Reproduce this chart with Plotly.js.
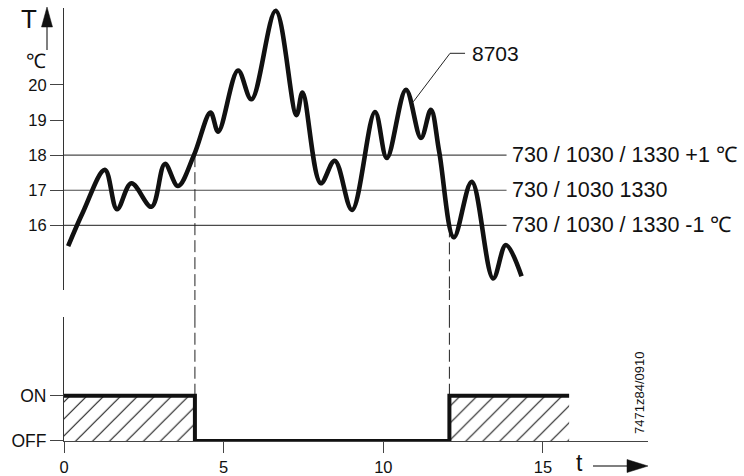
<!DOCTYPE html>
<html>
<head>
<meta charset="utf-8">
<script src="https://cdn.plot.ly/plotly-3.0.1.min.js"></script>
<style>
  html, body { margin: 0; padding: 0; background: #fff; }
  #chart { width: 744px; height: 476px; }
</style>
</head>
<body>
<div id="chart"></div>
<script>
// Room temperature over time (t, °C)
const curveTime = [0.13, 0.60, 1.28, 1.66, 2.11, 2.74, 3.16, 3.57, 4.07, 4.59, 4.83, 5.45, 5.87, 6.63,
                   7.28, 7.47, 8.04, 8.48, 9.02, 9.74, 10.11, 10.71, 11.18, 11.49, 11.75, 12.21, 12.77,
                   13.44, 13.84, 14.33];
const curveTemp = [15.41, 16.39, 17.58, 16.46, 17.20, 16.53, 17.75, 17.12, 18.00, 19.21, 18.67, 20.41, 19.59, 22.11,
                   19.14, 19.78, 17.20, 17.84, 16.44, 19.23, 17.92, 19.86, 18.49, 19.29, 18.10, 15.66, 17.24,
                   14.49, 15.44, 14.55];

// Setpoint levels and their parameter labels
const levelValues = [18, 17, 16];
const levelLabels = ['730 / 1030 / 1330 +1 \u2103', '730 / 1030 1330', '730 / 1030 / 1330 -1 \u2103'];
const levelEnd = 13.86;

// Relay output: switching instants and state after each instant (1 = ON, 0 = OFF)
const switchTime = [0, 4.1, 12.07, 15.82];
const switchState = [1, 0, 1, 1];
// Temperature at which each switching happens
const switchTemp = [18, 16];

// Leader for the curve label
const leaderTime = [10.94, 12.09, 12.56];
const leaderTemp = [19.52, 20.90, 20.90];
const curveName = '8703';

// Tick labels
const tempTicks = [16, 17, 18, 19, 20];
const timeTicks = [0, 5, 10, 15];
const stateTicks = [0, 1];
const stateLabels = ['OFF', 'ON'];

// Layout geometry
const xRange = [0, 18.29];
const tempRange = [14.16, 22.19];
const stateRange = [0, 2.74];
const tempDomain = [0.3487, 1];
const stateDomain = [0, 0.2864];

const FONT = 'Liberation Sans, Arial, Helvetica, sans-serif';
const INK = '#111';
const AXIS = '#444';
const DASH = '12px,5px';

const traces = [];

// Setpoint reference lines
const refX = [], refY = [];
levelValues.forEach(v => { refX.push(0, levelEnd, null); refY.push(v, v, null); });
traces.push({
  x: refX, y: refY, xaxis: 'x', yaxis: 'y', mode: 'lines',
  line: { color: '#4a4a4a', width: 1.1 }, hoverinfo: 'skip', showlegend: false
});

// Dashed switching markers in both panels
const switchInstants = switchTime.slice(1, 3);
switchInstants.forEach((t, i) => {
  traces.push({
    x: [t, t], y: [switchTemp[i], tempRange[0] - 1], xaxis: 'x', yaxis: 'y', mode: 'lines',
    line: { color: '#222', width: 1, dash: DASH }, hoverinfo: 'skip', showlegend: false
  });
  traces.push({
    x: [t, t], y: [1, stateRange[1] + 1], xaxis: 'x', yaxis: 'y2', mode: 'lines',
    line: { color: '#222', width: 1, dash: DASH }, hoverinfo: 'skip', showlegend: false
  });
});

// Temperature curve
traces.push({
  x: curveTime, y: curveTemp, xaxis: 'x', yaxis: 'y', mode: 'lines',
  line: { color: '#111', width: 4.6, shape: 'spline', smoothing: 1.0 },
  hoverinfo: 'skip', showlegend: false
});

// Leader line to the curve label
traces.push({
  x: leaderTime, y: leaderTemp, xaxis: 'x', yaxis: 'y', mode: 'lines',
  line: { color: '#222', width: 1 }, hoverinfo: 'skip', showlegend: false
});

// Relay output with hatched ON periods
traces.push({
  x: switchTime, y: switchState, xaxis: 'x', yaxis: 'y2', mode: 'lines',
  line: { color: '#111', width: 4, shape: 'hv' },
  fill: 'tozeroy', fillcolor: 'rgba(0,0,0,0)',
  fillpattern: { shape: '/', size: 12, solidity: 0.1, fgcolor: '#222', bgcolor: 'rgba(255,255,255,0)' },
  hoverinfo: 'skip', showlegend: false
});

const shapes = [];
// Dashed markers continue through the gap between the panels
switchInstants.forEach(t => {
  shapes.push({
    type: 'line', xref: 'x', yref: 'paper', x0: t, x1: t, y0: stateDomain[1], y1: tempDomain[0],
    line: { color: '#222', width: 1, dash: DASH }
  });
});
// Arrow of the temperature axis
shapes.push({
  type: 'path', xref: 'paper', yref: 'paper', xsizemode: 'pixel', ysizemode: 'pixel',
  xanchor: 0, yanchor: 1, path: 'M-17,-19 L-17,-42',
  line: { color: '#555', width: 1.5 }
});
shapes.push({
  type: 'path', xref: 'paper', yref: 'paper', xsizemode: 'pixel', ysizemode: 'pixel',
  xanchor: 0, yanchor: 1, path: 'M-17,1 L-22.5,-19 L-11.5,-19 Z',
  fillcolor: '#111', line: { color: '#111', width: 0.5 }
});
// Arrow of the time axis
shapes.push({
  type: 'path', xref: 'paper', yref: 'paper', xsizemode: 'pixel', ysizemode: 'pixel',
  xanchor: 1, yanchor: 0, path: 'M-55,-25 L-21,-25',
  line: { color: '#555', width: 1.5 }
});
shapes.push({
  type: 'path', xref: 'paper', yref: 'paper', xsizemode: 'pixel', ysizemode: 'pixel',
  xanchor: 1, yanchor: 0, path: 'M0,-25 L-21,-18.5 L-21,-31.5 Z',
  fillcolor: '#111', line: { color: '#111', width: 0.5 }
});

const annotations = [];
levelValues.forEach((v, i) => {
  annotations.push({
    xref: 'x', yref: 'y', x: levelEnd, y: v, text: levelLabels[i], showarrow: false,
    xanchor: 'left', yanchor: 'middle', xshift: 3, yshift: 0,
    font: { family: FONT, size: 21.5, color: INK }
  });
});
annotations.push({
  xref: 'x', yref: 'y', x: leaderTime[2], y: leaderTemp[2], text: curveName, showarrow: false,
  xanchor: 'left', yanchor: 'middle', xshift: 5, font: { family: FONT, size: 21, color: INK }
});
annotations.push({
  xref: 'paper', yref: 'paper', x: 0, y: 1, text: 'T', showarrow: false,
  xanchor: 'center', yanchor: 'middle', xshift: -35, yshift: -11,
  font: { family: FONT, size: 26, color: INK }
});
annotations.push({
  xref: 'paper', yref: 'paper', x: 0, y: 1, text: '\u2103', showarrow: false,
  xanchor: 'center', yanchor: 'middle', xshift: -28, yshift: -53,
  font: { family: FONT, size: 20, color: INK }
});
annotations.push({
  xref: 'paper', yref: 'paper', x: 1, y: 0, text: 't', showarrow: false,
  xanchor: 'center', yanchor: 'middle', xshift: -69, yshift: -22, borderpad: 0,
  font: { family: FONT, size: 23, color: INK }
});
annotations.push({
  xref: 'paper', yref: 'paper', x: 1, y: 0, text: '7471z84/0910', showarrow: false,
  textangle: -90, xanchor: 'center', yanchor: 'middle', xshift: -9, yshift: 48,
  font: { family: FONT, size: 13, color: INK }
});

const layout = {
  width: 744, height: 476,
  margin: { l: 64, r: 96, t: 8, b: 35, pad: 0 },
  paper_bgcolor: '#fff', plot_bgcolor: '#fff',
  showlegend: false,
  font: { family: FONT, color: INK },
  xaxis: {
    domain: [0, 1], range: xRange, anchor: 'y2',
    showline: true, linecolor: AXIS, linewidth: 1,
    ticks: 'outside', ticklen: 11, tickcolor: AXIS, tickwidth: 1,
    tickmode: 'array', tickvals: timeTicks, ticktext: timeTicks.map(String),
    tickfont: { family: FONT, size: 16.5, color: INK },
    showgrid: false, zeroline: false, fixedrange: true
  },
  yaxis: {
    domain: tempDomain, range: tempRange, anchor: 'x',
    showline: true, linecolor: '#333', linewidth: 1,
    ticks: 'outside', ticklen: 13, tickcolor: AXIS, tickwidth: 1,
    tickmode: 'array', tickvals: tempTicks, ticktext: tempTicks.map(String),
    tickfont: { family: FONT, size: 16.5, color: INK },
    showgrid: false, zeroline: false, fixedrange: true
  },
  yaxis2: {
    domain: stateDomain, range: stateRange, anchor: 'x',
    showline: true, linecolor: '#333', linewidth: 1,
    ticks: 'outside', ticklen: 13, tickcolor: AXIS, tickwidth: 1,
    tickmode: 'array', tickvals: stateTicks, ticktext: stateLabels,
    tickfont: { family: FONT, size: 17.5, color: INK },
    showgrid: false, zeroline: false, fixedrange: true
  },
  shapes: shapes,
  annotations: annotations
};

Plotly.newPlot('chart', traces, layout, { displayModeBar: false, staticPlot: true });
</script>
</body>
</html>
